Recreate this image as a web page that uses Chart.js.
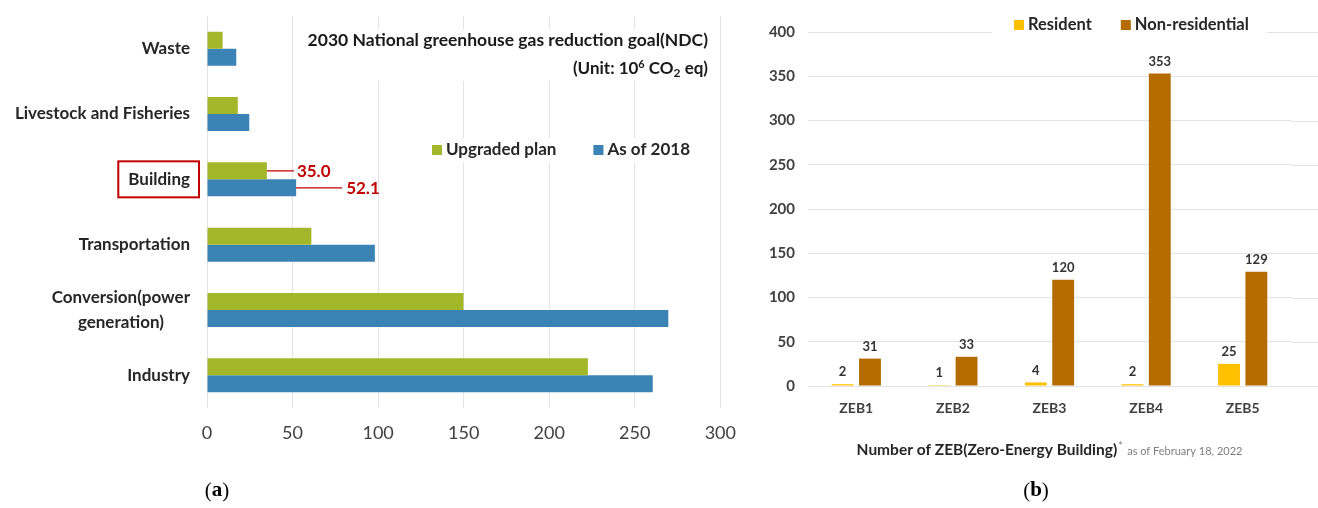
<!DOCTYPE html>
<html>
<head>
<meta charset="utf-8">
<script src="https://cdn.jsdelivr.net/npm/chart.js@4.4.1/dist/chart.umd.min.js"></script>
<style>
  html, body { margin: 0; padding: 0; background: #fff; }
  #wrap { position: relative; width: 1318px; height: 508px; overflow: hidden; }
  #chartA { position: absolute; left: 0; top: 0; }
  #chartB { position: absolute; left: 750px; top: 0; }
</style>
</head>
<body>
<div id="wrap">
  <canvas id="chartA" width="750" height="508"></canvas>
  <canvas id="chartB" width="568" height="508"></canvas>
</div>
<script>
// (a) 2030 NDC by sector, 10^6 t CO2 eq
var sectors = ['Waste', 'Livestock and Fisheries', 'Building', 'Transportation', ['Conversion(power', 'generation)'], 'Industry'];
var upgradedPlan = [9.1, 18.0, 35.0, 61.0, 149.9, 222.6];
var asOf2018 = [17.1, 24.7, 52.1, 98.1, 269.6, 260.5];
var sectorTicks = [0, 50, 100, 150, 200, 250, 300];

// (b) number of certified ZEBs by grade
var zebGrades = ['ZEB1', 'ZEB2', 'ZEB3', 'ZEB4', 'ZEB5'];
var resident = [2, 1, 4, 2, 25];
var nonResidential = [31, 33, 120, 353, 129];
var zebTicks = [0, 50, 100, 150, 200, 250, 300, 350, 400];

var FONT = 'Lato, "Open Sans", sans-serif';
var SERIF = '"Liberation Serif", "DejaVu Serif", serif';
Chart.defaults.font.family = FONT;

function label(ctx, text, x, y, font, color, align) {
  ctx.font = font;
  ctx.fillStyle = color;
  ctx.textAlign = align || 'left';
  ctx.textBaseline = 'middle';
  ctx.fillText(text, x, y);
  return ctx.measureText(text).width;
}

// "(a)" / "(b)" captions under each panel
function caption(ctx, letter, cx, cy) {
  ctx.font = '21px ' + SERIF;
  var wp = ctx.measureText('(').width;
  ctx.font = 'bold 21px ' + SERIF;
  var wl = ctx.measureText(letter).width;
  var x = cx - (wp * 2 + wl) / 2;
  x += label(ctx, '(', x, cy, '21px ' + SERIF, '#000');
  x += label(ctx, letter, x, cy, 'bold 21px ' + SERIF, '#000');
  label(ctx, ')', x, cy, '21px ' + SERIF, '#000');
}

function legendRow(chart, x, y, gap, size) {
  var ctx = chart.ctx;
  chart.data.datasets.forEach(function (ds) {
    ctx.fillStyle = ds.backgroundColor;
    ctx.fillRect(x, y - 5, 10, 10);
    x += 14;
    x += label(ctx, ds.label, x, y, 'bold ' + size + 'px ' + FONT, '#262626') + gap;
  });
}

var notesA = {
  id: 'notesA',
  afterDatasetsDraw: function (chart) {
    var ctx = chart.ctx;
    var area = chart.chartArea;
    ctx.save();

    // sector names; two-line names are centred on each other
    var yS = chart.scales.y;
    var tickFont = 'bold 17px ' + FONT;
    var labelRight = area.left - 17;
    sectors.forEach(function (name, i) {
      var cy = yS.getPixelForTick(i);
      var lines = [].concat(name);
      ctx.font = tickFont;
      var wMax = Math.max.apply(null, lines.map(function (l) { return ctx.measureText(l).width; }));
      var lh = 25;
      lines.forEach(function (l, k) {
        var y = cy + (k - (lines.length - 1) / 2) * lh;
        label(ctx, l, labelRight - wMax / 2, y, tickFont, '#262626', 'center');
      });
    });

    // title block sits over the gridlines
    ctx.fillStyle = '#fff';
    ctx.fillRect(300, 29, 420, 52);
    label(ctx, '2030 National greenhouse gas reduction goal(NDC)', 708, 40, 'bold 17.5px ' + FONT, '#1a1a1a', 'right');

    // (Unit: 10^6 CO2 eq), right aligned
    var parts = [
      ['(Unit: 10', 'bold 17px ' + FONT, 0],
      ['6', 'bold 11px ' + FONT, -5],
      [' CO', 'bold 17px ' + FONT, 0],
      ['2', 'bold 12px ' + FONT, 4],
      [' eq)', 'bold 17px ' + FONT, 0]
    ];
    var total = 0;
    parts.forEach(function (p) { ctx.font = p[1]; total += ctx.measureText(p[0]).width; });
    var x = 708 - total;
    parts.forEach(function (p) { x += label(ctx, p[0], x, 69 + p[2], p[1], '#1a1a1a'); });

    // legend
    ctx.fillStyle = '#fff';
    ctx.fillRect(425, 138, 270, 24);
    legendRow(chart, 432, 150, 37, 17);

    // call-outs for the Building sector
    var bi = sectors.indexOf('Building');
    var red = '#c00000';
    var g = chart.getDatasetMeta(0).data[bi];
    var b = chart.getDatasetMeta(1).data[bi];
    ctx.strokeStyle = red;
    ctx.lineWidth = 1.2;
    ctx.beginPath();
    ctx.moveTo(g.x, g.y); ctx.lineTo(g.x + 27, g.y);
    ctx.moveTo(b.x, b.y); ctx.lineTo(b.x + 46, b.y);
    ctx.stroke();
    label(ctx, upgradedPlan[bi].toFixed(1), g.x + 30, g.y + 1, 'bold 17px ' + FONT, red);
    label(ctx, asOf2018[bi].toFixed(1), b.x + 50, b.y + 1, 'bold 17px ' + FONT, red);

    // frame around the Building label
    var cyB = yS.getPixelForTick(bi);
    ctx.font = tickFont;
    var tw = ctx.measureText('Building').width;
    var right = area.left - 8;
    ctx.lineWidth = 2;
    ctx.strokeRect(right - tw - 19, cyB - 18, tw + 19, 36);

    caption(ctx, 'a', 217, 491);
    ctx.restore();
  }
};

new Chart(document.getElementById('chartA'), {
  type: 'bar',
  data: {
    labels: sectors,
    datasets: [
      { label: 'Upgraded plan', data: upgradedPlan, backgroundColor: '#a3b72b' },
      { label: 'As of 2018', data: asOf2018, backgroundColor: '#3c83b5' }
    ]
  },
  options: {
    indexAxis: 'y',
    responsive: false,
    animation: false,
    categoryPercentage: 0.52,
    barPercentage: 1.0,
    layout: { padding: { top: 16, right: 26, bottom: 60, left: 0 } },
    plugins: { legend: { display: false }, tooltip: { enabled: false } },
    scales: {
      x: {
        min: sectorTicks[0],
        max: sectorTicks[sectorTicks.length - 1],
        ticks: { stepSize: sectorTicks[1] - sectorTicks[0], padding: 14, color: '#404040', font: { size: 18 } },
        grid: { color: '#e3e3e3', drawTicks: false },
        border: { display: false },
        afterFit: function (s) { s.height = 40; }
      },
      y: {
        ticks: { display: false },
        grid: { display: false, drawTicks: false },
        border: { display: false },
        afterFit: function (s) { s.width = 207; }
      }
    }
  },
  plugins: [notesA]
});

var notesB = {
  id: 'notesB',
  beforeDatasetsDraw: function (chart) {
    // gridlines run on to the right edge of the panel
    var ctx = chart.ctx, yS = chart.scales.y;
    ctx.save();
    ctx.strokeStyle = '#e3e3e3';
    ctx.lineWidth = 1;
    ctx.beginPath();
    zebTicks.forEach(function (v) {
      var y = Math.round(yS.getPixelForValue(v)) + 0.5;
      ctx.moveTo(chart.chartArea.right, y);
      ctx.lineTo(chart.width, y);
    });
    ctx.stroke();
    ctx.restore();
  },
  afterDatasetsDraw: function (chart) {
    var ctx = chart.ctx;
    ctx.save();
    // value labels above the bars
    chart.data.datasets.forEach(function (ds, di) {
      chart.getDatasetMeta(di).data.forEach(function (el, i) {
        label(ctx, String(ds.data[i]), el.x, el.y - 12, 'bold 13px ' + FONT, '#333', 'center');
      });
    });

    // legend on top of the 400 gridline
    ctx.fillStyle = '#fff';
    ctx.fillRect(242, 14, 275, 24);
    legendRow(chart, 264, 25, 29, 16.5);

    // axis title with footnote
    var a = 'Number of ZEB(Zero-Energy Building)';
    var n = 'as of February 18, 2022';
    ctx.font = 'bold 15.5px ' + FONT;
    var wa = ctx.measureText(a).width;
    ctx.font = '11px ' + FONT;
    var wn = ctx.measureText(n).width;
    var cx = (chart.chartArea.left + chart.chartArea.right) / 2;
    var x = cx - (wa + 10 + wn) / 2;
    x += label(ctx, a, x, 450, 'bold 15.5px ' + FONT, '#262626');
    label(ctx, '*', x + 1, 446, '11px ' + FONT, '#7f7f7f');
    label(ctx, n, x + 10, 451, '11px ' + FONT, '#7f7f7f');

    caption(ctx, 'b', 286, 491);
    ctx.restore();
  }
};

new Chart(document.getElementById('chartB'), {
  type: 'bar',
  data: {
    labels: zebGrades,
    datasets: [
      { label: 'Resident', data: resident, backgroundColor: '#ffc000' },
      { label: 'Non-residential', data: nonResidential, backgroundColor: '#b46c00' }
    ]
  },
  options: {
    responsive: false,
    animation: false,
    categoryPercentage: 0.566,
    barPercentage: 0.8,
    layout: { padding: { top: 32, right: 27, bottom: 82, left: 0 } },
    plugins: { legend: { display: false }, tooltip: { enabled: false } },
    scales: {
      x: {
        ticks: { padding: 14, color: '#404040', font: { size: 14, weight: 'bold' } },
        grid: { display: false, drawTicks: false },
        border: { display: false },
        afterFit: function (s) { s.height = 40; }
      },
      y: {
        min: zebTicks[0],
        max: zebTicks[zebTicks.length - 1],
        ticks: { stepSize: zebTicks[1] - zebTicks[0], padding: 13, color: '#404040', font: { size: 15, weight: 'bold' } },
        grid: { color: '#e3e3e3', drawTicks: false },
        border: { display: false },
        afterFit: function (s) { s.width = 58; }
      }
    }
  },
  plugins: [notesB]
});
</script>
</body>
</html>
